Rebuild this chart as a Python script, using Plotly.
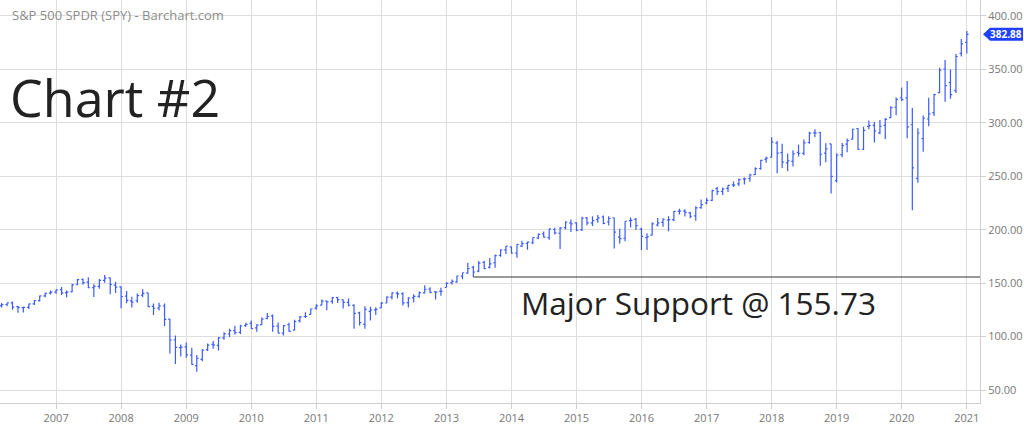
import plotly.graph_objects as go
import pandas as pd

TITLE = "S&P 500 SPDR (SPY) - Barchart.com"
CHART_LABEL = "Chart #2"
SUPPORT = 155.73
SUPPORT_START = "2013-06-01"
SUPPORT_TEXT = "Major Support @ 155.73"
LAST_PRICE = 382.88

START_MONTH = "2006-02-01"

opens = [
    128.4, 128.9, 130.0, 131.5, 128.0, 127.0, 127.3, 130.6, 133.6, 138.1, 140.7,
    141.6, 143.9, 140.9, 141.8, 148.5, 153.4, 150.9, 145.8, 146.9, 152.6, 154.9, 148.2,
    146.5, 137.9, 133.4, 133.5, 138.7, 140.8, 128.2, 126.7, 128.6, 116.3, 97.0, 89.7,
    90.4, 82.6, 72.8, 78.6, 87.7, 92.6, 91.8, 98.8, 102.4, 105.6, 104.0, 110.2,
    112.4, 108.2, 111.2, 117.0, 119.4, 109.8, 103.2, 111.1, 106.1, 114.9, 118.8, 120.8,
    126.7, 129.5, 133.3, 132.9, 136.5, 134.4, 132.0, 129.2, 122.1, 111.5, 123.6, 124.9,
    126.9, 131.4, 137.0, 140.6, 140.2, 131.8, 136.4, 137.6, 140.8, 144.5, 141.8, 142.3,
    145.9, 150.3, 151.1, 156.6, 159.3, 165.0, 161.3, 169.4, 164.8, 169.1, 176.0, 181.1,
    184.0, 178.0, 184.7, 187.1, 187.8, 192.1, 196.1, 192.6, 200.2, 196.7, 201.9, 206.4,
    206.4, 200.0, 211.0, 206.4, 209.4, 211.9, 207.2, 211.2, 193.1, 192.0, 208.5, 209.6,
    200.5, 192.5, 195.0, 204.4, 206.9, 209.1, 209.5, 217.2, 217.4, 215.8, 212.9, 220.7,
    225.0, 227.5, 238.4, 235.8, 238.7, 242.0, 242.9, 247.5, 247.9, 251.5, 257.3, 265.8,
    267.8, 281.1, 272.1, 262.6, 263.9, 272.4, 271.4, 281.6, 290.6, 291.2, 271.6, 280.3,
    246.0, 270.2, 280.0, 284.7, 294.7, 275.3, 296.7, 297.6, 290.6, 297.7, 304.9, 314.6,
    323.5, 323.4, 298.2, 248.0, 285.3, 303.6, 309.6, 328.3, 350.4, 337.7, 330.2, 365.0,
    375.3,
]
highs = [
    129.9, 131.3, 131.7, 132.7, 128.5, 128.0, 130.6, 134.1, 138.4, 141.0, 143.2,
    144.1, 146.4, 143.2, 149.5, 153.9, 154.4, 155.5, 149.0, 153.8, 157.5, 155.3, 151.4,
    147.2, 142.6, 137.3, 140.2, 144.3, 141.1, 130.9, 131.6, 130.9, 116.5, 100.9, 92.6,
    94.4, 89.6, 82.8, 88.1, 93.6, 95.9, 99.5, 104.0, 107.3, 110.1, 111.0, 113.0,
    115.1, 111.6, 117.9, 122.1, 120.7, 113.2, 110.9, 113.0, 115.8, 119.2, 122.8, 126.2,
    130.3, 134.7, 133.7, 136.8, 137.2, 134.6, 135.7, 130.2, 123.2, 128.4, 127.8, 127.4,
    132.3, 137.8, 141.2, 142.2, 141.4, 136.9, 139.5, 142.2, 148.1, 146.2, 142.4, 145.6,
    150.9, 153.3, 157.2, 159.7, 169.1, 166.0, 170.7, 171.0, 173.6, 176.7, 181.7, 184.7,
    184.1, 186.4, 189.7, 189.0, 192.8, 196.5, 198.3, 200.6, 201.9, 202.2, 207.8, 209.6,
    206.9, 212.2, 212.0, 212.5, 213.8, 213.3, 212.7, 211.3, 200.8, 208.0, 211.5, 211.0,
    201.9, 196.7, 206.9, 210.9, 210.7, 212.5, 217.5, 219.6, 219.2, 216.8, 221.9, 228.3,
    229.7, 237.3, 240.3, 239.5, 241.7, 245.0, 248.0, 248.9, 252.3, 258.5, 265.5, 268.6,
    286.6, 283.1, 280.4, 271.3, 274.3, 279.5, 284.4, 291.7, 293.9, 291.4, 281.0, 280.4,
    271.2, 281.2, 285.3, 294.5, 295.0, 296.3, 302.2, 300.9, 302.6, 304.6, 315.5, 323.8,
    333.0, 339.1, 313.8, 294.9, 306.8, 323.4, 327.2, 351.5, 358.8, 349.9, 364.4, 378.5,
    385.9,
]
lows = [
    125.6, 127.2, 128.3, 125.0, 122.4, 122.6, 125.9, 129.5, 132.8, 136.9, 139.3,
    140.0, 138.9, 136.7, 141.5, 148.0, 148.4, 145.5, 137.0, 144.7, 150.4, 139.6, 140.8,
    126.6, 131.1, 127.2, 131.7, 136.9, 127.6, 120.1, 124.3, 110.0, 84.2, 74.3, 81.3,
    80.1, 73.6, 67.1, 77.0, 86.4, 88.6, 87.0, 97.0, 99.6, 101.9, 102.5, 109.2,
    107.2, 104.6, 111.0, 116.1, 104.4, 103.4, 101.1, 104.5, 105.9, 113.2, 117.4, 120.7,
    125.2, 129.3, 124.7, 130.6, 131.3, 126.2, 128.3, 107.4, 110.3, 107.4, 115.1, 120.2,
    126.7, 131.3, 134.7, 135.8, 129.1, 127.1, 131.8, 136.3, 140.2, 140.5, 134.7, 138.2,
    145.8, 148.7, 150.3, 153.6, 158.9, 155.7, 160.3, 163.0, 163.7, 164.5, 174.8, 177.3,
    177.4, 173.7, 183.7, 181.3, 186.3, 191.4, 192.6, 190.5, 195.4, 181.9, 200.1, 197.9,
    198.6, 198.7, 204.1, 203.4, 206.6, 205.1, 203.9, 182.4, 187.0, 189.1, 202.0, 199.8,
    181.0, 181.1, 194.5, 203.1, 202.8, 198.6, 207.8, 214.3, 212.3, 210.8, 208.4, 219.7,
    223.9, 226.8, 232.5, 232.5, 235.4, 240.0, 240.8, 242.2, 244.9, 251.3, 256.1, 262.7,
    267.4, 252.9, 257.8, 254.7, 259.1, 268.5, 269.6, 280.4, 286.7, 259.9, 263.1, 233.8,
    244.2, 267.8, 272.4, 284.3, 274.6, 274.6, 293.9, 281.7, 289.3, 284.8, 304.7, 307.1,
    320.4, 285.5, 218.3, 243.9, 273.0, 296.7, 306.4, 327.7, 319.8, 322.6, 327.9, 362.0,
    364.8,
]
closes = [
    128.2, 129.8, 131.5, 127.5, 127.3, 127.3, 130.5, 133.6, 138.1, 140.5, 141.6,
    143.7, 140.9, 141.6, 148.3, 153.3, 150.4, 145.7, 146.9, 152.6, 154.7, 148.7, 146.2,
    137.4, 133.8, 132.3, 138.3, 140.4, 128.0, 126.5, 128.8, 116.0, 96.8, 89.9, 90.2,
    82.8, 73.9, 79.5, 87.3, 91.9, 92.0, 98.8, 102.5, 105.6, 103.6, 109.9, 111.4,
    107.4, 110.7, 116.4, 118.8, 109.6, 103.2, 110.3, 104.9, 114.1, 118.5, 118.8, 125.8,
    128.7, 133.2, 132.5, 136.4, 134.5, 132.0, 129.3, 121.7, 113.1, 125.5, 125.0, 125.5,
    131.3, 137.0, 140.8, 139.9, 131.5, 136.1, 137.7, 141.2, 144.3, 141.3, 141.5, 142.4,
    149.7, 151.6, 156.7, 159.7, 163.5, 160.4, 168.7, 163.7, 168.0, 175.8, 181.0, 184.7,
    178.2, 186.3, 187.0, 188.3, 192.7, 195.7, 193.1, 200.7, 197.0, 201.7, 207.2, 205.5,
    199.5, 210.7, 206.4, 208.5, 211.1, 205.9, 210.5, 197.7, 191.6, 207.9, 208.7, 203.9,
    193.7, 193.6, 205.5, 206.3, 209.8, 209.5, 217.1, 217.4, 216.3, 212.6, 220.4, 223.5,
    227.5, 236.5, 235.7, 238.1, 241.4, 241.8, 246.8, 247.5, 251.2, 257.2, 264.8, 266.9,
    281.9, 271.7, 263.2, 264.5, 270.9, 271.3, 281.3, 290.3, 290.7, 270.6, 275.7, 249.9,
    269.9, 278.7, 283.4, 294.0, 275.3, 293.0, 297.4, 292.5, 296.8, 303.3, 314.3, 321.9,
    321.7, 296.3, 257.8, 290.5, 304.3, 308.4, 326.5, 349.3, 334.9, 326.5, 362.1, 373.9,
    382.88,
]

dates = pd.date_range(START_MONTH, periods=len(closes), freq="MS")

X_RANGE = ["2006-02-20", "2021-03-16"]
Y_RANGE = [37.83, 414.96]
Y_TICKS = [50, 100, 150, 200, 250, 300, 350, 400]
X_TICKS = [f"{y}-01-01" for y in range(2007, 2022)]
X_TICK_TEXT = [str(y) for y in range(2007, 2022)]
Y_TICK_TEXT = [f"{v:.2f}" for v in Y_TICKS]

BAR_COLOR = "#3b5bff"
LABEL_COLOR = "#1f40ff"
GRID = "#dedede"
FONT = "Open Sans"

fig = go.Figure()
fig.add_trace(go.Ohlc(
    x=dates, open=opens, high=highs, low=lows, close=closes,
    increasing=dict(line=dict(color=BAR_COLOR, width=1.2)),
    decreasing=dict(line=dict(color=BAR_COLOR, width=1.2)),
    tickwidth=0.35, showlegend=False, hoverinfo="skip",
))

# support line
fig.add_shape(type="line", xref="x", yref="y",
              x0=SUPPORT_START, x1=X_RANGE[1], y0=SUPPORT, y1=SUPPORT,
              line=dict(color="#333333", width=1))

# last price label (pentagon pointing left)
px_per_unit = 403 / (Y_RANGE[1] - Y_RANGE[0])
half_h = 6.5 / px_per_unit
pw = 980.0
tip, left, right = 983 / pw, 990 / pw, 1023 / pw
path = (f"M {tip} {LAST_PRICE} L {left} {LAST_PRICE + half_h} L {right} {LAST_PRICE + half_h} "
        f"L {right} {LAST_PRICE - half_h} L {left} {LAST_PRICE - half_h} Z")
fig.add_shape(type="path", xref="paper", yref="y", path=path,
              fillcolor=LABEL_COLOR, line=dict(color=LABEL_COLOR, width=0))
fig.add_annotation(xref="paper", yref="y", x=1005.5 / pw, y=LAST_PRICE,
                   text=f"<b>{LAST_PRICE:.2f}</b>", showarrow=False,
                   font=dict(family=FONT, size=10, color="white"),
                   xanchor="center", yanchor="middle")

# texts
fig.add_annotation(xref="paper", yref="paper", x=10 / pw, y=1 - 15 / 403,
                   text=TITLE, showarrow=False, xanchor="left", yanchor="middle",
                   font=dict(family=FONT, size=13, color="#8c8c8c"))
fig.add_annotation(xref="paper", yref="paper", x=8 / pw, y=1 - 96 / 403,
                   text=CHART_LABEL, showarrow=False, xanchor="left", yanchor="middle",
                   font=dict(family=FONT, size=52, color="#222222"))
fig.add_annotation(xref="paper", yref="paper", x=519 / pw, y=1 - 302 / 403,
                   text=SUPPORT_TEXT, showarrow=False, xanchor="left", yanchor="middle",
                   font=dict(family=FONT, size=31.5, color="#222222"))

fig.update_layout(
    width=1024, height=424,
    margin=dict(l=0, r=44, t=0, b=21, autoexpand=False),
    paper_bgcolor="white", plot_bgcolor="white",
    showlegend=False,
    font=dict(family=FONT, size=11, color="#777777"),
    xaxis=dict(
        type="date", range=X_RANGE, rangeslider=dict(visible=False),
        tickvals=X_TICKS, ticktext=X_TICK_TEXT,
        showgrid=True, gridcolor=GRID, gridwidth=1,
        showline=True, linecolor="#cfcfcf", linewidth=1,
        ticks="outside", ticklen=5, tickcolor="#cfcfcf",
        tickfont=dict(family=FONT, size=11, color="#777777"),
        zeroline=False, fixedrange=True, automargin=False,
    ),
    yaxis=dict(
        side="right", range=Y_RANGE, tickvals=Y_TICKS, ticktext=Y_TICK_TEXT,
        showgrid=True, gridcolor=GRID, gridwidth=1,
        showline=True, linecolor="#cfcfcf", linewidth=1,
        ticks="outside", ticklen=5, tickcolor="#cfcfcf",
        tickfont=dict(family=FONT, size=11, color="#777777"),
        zeroline=False, fixedrange=True, automargin=False,
    ),
)

fig.write_html("out.html", config={"displayModeBar": False},
               post_script="document.body.style.margin='0';")
